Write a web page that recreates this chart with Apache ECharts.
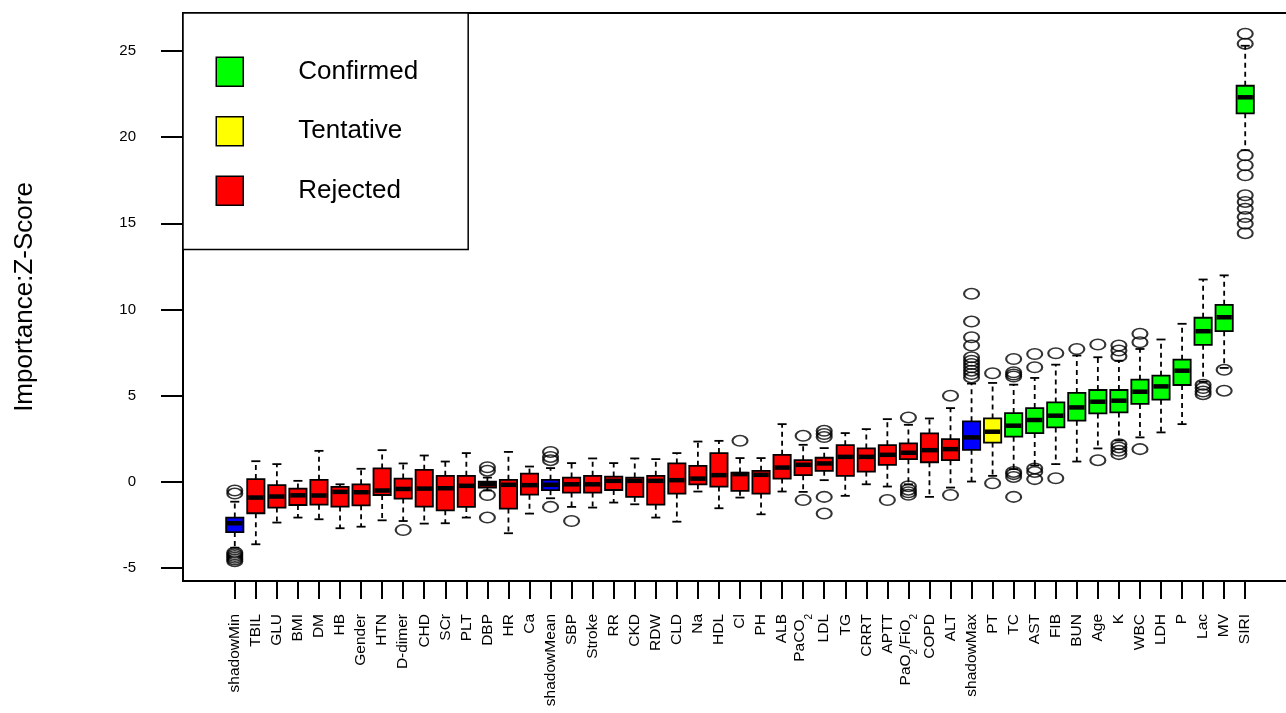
<!DOCTYPE html>
<html>
<head>
<meta charset="utf-8">
<style>html,body{margin:0;padding:0;background:#fff}#chart{width:1286px;height:713px}</style>
<script src="https://cdn.jsdelivr.net/npm/echarts@6/dist/echarts.min.js"></script>
</head>
<body>
<div id="chart"></div>
<script>
// ---- data ----
const categories = ['shadowMin','TBIL','GLU','BMI','DM','HB','Gender','HTN','D-dimer','CHD','SCr','PLT','DBP','HR','Ca','shadowMean','SBP','Stroke','RR','CKD','RDW','CLD','Na','HDL','Cl','PH','ALB','PaCO2','LDL','TG','CRRT','APTT','PaO2/FiO2','COPD','ALT','shadowMax','PT','TC','AST','FIB','BUN','Age','K','WBC','LDH','P','Lac','MV','SIRI'];
const status = ['Shadow','Rejected','Rejected','Rejected','Rejected','Rejected','Rejected','Rejected','Rejected','Rejected','Rejected','Rejected','Rejected','Rejected','Rejected','Shadow','Rejected','Rejected','Rejected','Rejected','Rejected','Rejected','Rejected','Rejected','Rejected','Rejected','Rejected','Rejected','Rejected','Rejected','Rejected','Rejected','Rejected','Rejected','Rejected','Shadow','Tentative','Confirmed','Confirmed','Confirmed','Confirmed','Confirmed','Confirmed','Confirmed','Confirmed','Confirmed','Confirmed','Confirmed','Confirmed'];
const whiskerLow  = [-3.82,-3.62,-2.36,-2.07,-2.17,-2.69,-2.60,-2.23,-2.27,-2.42,-2.40,-2.07,-0.50,-2.98,-1.84,-0.95,-1.45,-1.49,-1.20,-1.30,-2.07,-2.31,-0.56,-1.53,-0.91,-1.88,-0.56,-0.58,0.10,-0.81,-0.14,-0.27,-0.14,-0.87,-0.33,0.02,0.35,0.74,0.95,1.03,1.18,1.94,2.40,2.58,2.87,3.35,5.80,6.61,19.24];
const boxQ1       = [-2.91,-1.82,-1.49,-1.34,-1.32,-1.43,-1.36,-0.76,-0.97,-1.43,-1.65,-1.45,-0.33,-1.55,-0.74,-0.48,-0.62,-0.62,-0.47,-0.87,-1.32,-0.68,-0.14,-0.27,-0.52,-0.68,0.19,0.39,0.64,0.35,0.60,0.99,1.32,1.14,1.26,1.86,2.28,2.62,2.83,3.16,3.55,3.97,4.03,4.52,4.77,5.62,7.95,8.74,21.38];
const boxMedian   = [-2.40,-0.91,-0.85,-0.78,-0.79,-0.58,-0.60,-0.50,-0.41,-0.39,-0.37,-0.23,-0.14,-0.17,-0.19,-0.17,-0.14,-0.14,0.06,0.06,0.06,0.10,0.19,0.39,0.45,0.41,0.83,0.99,1.07,1.45,1.45,1.57,1.69,1.84,1.90,2.58,2.91,3.26,3.59,3.84,4.32,4.65,4.71,5.23,5.54,6.45,8.74,9.55,22.31];
const boxQ3       = [-2.07,0.16,-0.19,-0.39,0.12,-0.29,-0.14,0.78,0.19,0.70,0.35,0.35,0.02,0.12,0.48,0.12,0.25,0.35,0.31,0.25,0.35,1.07,0.93,1.67,0.54,0.64,1.57,1.26,1.40,2.13,1.94,2.13,2.23,2.81,2.48,3.51,3.68,3.99,4.28,4.61,5.16,5.33,5.33,5.93,6.16,7.09,9.52,10.27,22.98];
const whiskerHigh = [-1.15,1.20,1.03,0.06,1.80,-0.14,0.76,1.84,1.07,1.53,1.18,1.67,0.25,1.74,0.89,0.80,1.09,1.36,1.09,1.36,1.32,1.67,2.34,2.38,1.38,1.38,3.35,2.15,1.96,2.83,3.06,3.64,3.31,3.68,4.28,5.70,5.74,5.64,6.03,6.80,7.33,7.23,7.03,7.71,8.26,9.17,11.74,11.98,25.30];
// outliers: [category position (1-based), value]
const outliers = [
  [1,-0.50],[1,-0.68],[1,-4.10],[1,-4.20],[1,-4.30],[1,-4.40],[1,-4.50],[1,-4.60],
  [9,-2.79],
  [13,0.85],[13,0.65],[13,-0.76],[13,-2.07],
  [16,1.74],[16,1.45],[16,1.26],[16,-1.45],
  [17,-2.27],
  [25,2.38],
  [28,2.67],[28,-1.05],
  [29,2.96],[29,2.78],[29,2.60],[29,-0.87],[29,-1.84],
  [32,-1.05],
  [33,3.74],[33,-0.25],[33,-0.45],[33,-0.60],[33,-0.75],
  [35,5.00],[35,-0.76],
  [36,10.91],[36,9.30],[36,8.39],[36,7.91],[36,7.23],[36,7.03],[36,6.84],[36,6.65],[36,6.45],[36,6.26],[36,6.06],
  [37,6.30],[37,-0.08],
  [38,7.13],[38,6.36],[38,6.23],[38,6.11],[38,0.58],[38,0.45],[38,0.29],[38,-0.87],
  [39,7.42],[39,6.65],[39,0.78],[39,0.58],[39,0.16],
  [40,7.46],[40,0.21],
  [41,7.71],
  [42,7.97],[42,1.26],
  [43,7.91],[43,7.62],[43,7.29],[43,2.19],[43,2.00],[43,1.80],[43,1.61],
  [44,8.59],[44,8.10],[44,1.90],
  [47,5.63],[47,5.44],[47,5.24],[47,5.09],
  [48,6.50],[48,5.29],
  [49,26.00],[49,25.42],[49,18.95],[49,18.37],[49,17.79],[49,16.63],[49,16.24],[49,15.85],[49,15.36],[49,14.98],[49,14.43]
];
const yTicks = [-5, 0, 5, 10, 15, 20, 25];
const legendNames = ['Confirmed', 'Tentative', 'Rejected'];
const statusColor = {Shadow:'#0000ff', Confirmed:'#00ff00', Tentative:'#ffff00', Rejected:'#ff0000'};

// ---- layout constants ----
const FONT = 'Liberation Sans, Arial, sans-serif';
const BOX_W = 0.82, CAP_W = 0.43;
const xPositions = categories.map((c, i) => i + 1);

function renderBox(params, api) {
  const x = api.value(0);
  const lo = api.coord([x, api.value(1)]);
  const q1 = api.coord([x, api.value(2)]);
  const md = api.coord([x, api.value(3)]);
  const q3 = api.coord([x, api.value(4)]);
  const hi = api.coord([x, api.value(5)]);
  const bw = api.size([BOX_W, 0])[0];
  const cw = api.size([CAP_W, 0])[0];
  const cx = lo[0];
  const fill = api.visual('color');
  const dashStyle = {stroke:'#000', lineWidth:1.8, lineDash:[5,4], fill:null};
  const solid = {stroke:'#000', lineWidth:1.8, fill:null};
  return {
    type:'group',
    children:[
      {type:'line', shape:{x1:cx, y1:q3[1], x2:cx, y2:hi[1]}, style:dashStyle},
      {type:'line', shape:{x1:cx, y1:q1[1], x2:cx, y2:lo[1]}, style:dashStyle},
      {type:'line', shape:{x1:cx - cw/2, y1:hi[1], x2:cx + cw/2, y2:hi[1]}, style:solid},
      {type:'line', shape:{x1:cx - cw/2, y1:lo[1], x2:cx + cw/2, y2:lo[1]}, style:solid},
      {type:'rect', shape:{x:cx - bw/2, y:q3[1], width:bw, height:q1[1]-q3[1]}, style:{fill:fill, stroke:'#000', lineWidth:1.8}},
      {type:'line', shape:{x1:cx - bw/2 + 1, y1:md[1], x2:cx + bw/2 - 1, y2:md[1]}, style:{stroke:'#000', lineWidth:4.5}}
    ]
  };
}

function seriesFor(st) {
  const data = [];
  categories.forEach((c, i) => {
    if (status[i] === st) data.push([xPositions[i], whiskerLow[i], boxQ1[i], boxMedian[i], boxQ3[i], whiskerHigh[i]]);
  });
  return {
    type:'custom', name: st === 'Shadow' ? 'shadow' : st,
    renderItem: renderBox,
    itemStyle:{color: statusColor[st]},
    encode:{x:0, y:[1,2,3,4,5]},
    data: data, z: 2
  };
}

function fmtLabel(v) {
  const name = categories[Math.round(v) - 1] || '';
  if (name.indexOf('2') >= 0) {
    return name.split('2').map((p, i, arr) => (p ? '{n|' + p + '}' : '') + (i < arr.length - 1 ? '{sub|2}' : '')).join('');
  }
  return name;
}

const chart = echarts.init(document.getElementById('chart'), null, {renderer:'canvas'});
chart.setOption({
  animation:false,
  backgroundColor:'#fff',
  textStyle:{fontFamily:FONT, color:'#000'},
  grid:{left:183, top:13, right:-11, bottom:132, show:true, borderColor:'#000', borderWidth:2, backgroundColor:'transparent', containLabel:false, outerBoundsMode:'none'},
  legend:{
    data: legendNames.map(n => ({name:n})),
    orient:'vertical', left:183, top:13,
    padding:[43.5, 50, 43.5, 32.5],
    itemWidth:27, itemHeight:29, itemGap:29,
    icon:'rect',
    itemStyle:{borderColor:'#000', borderWidth:1.5},
    backgroundColor:'#fff', borderColor:'#000', borderWidth:1.5,
    textStyle:{fontSize:26, fontFamily:FONT, color:'#000', padding:[0,0,0,50]},
    selectedMode:false, z:10
  },
  xAxis:{
    type:'value', min:-1.46, max:51.46,
    axisLine:{show:false, onZero:false}, splitLine:{show:false},
    axisTick:{show:true, customValues:xPositions, length:18, lineStyle:{color:'#000', width:2}},
    axisLabel:{
      customValues:xPositions, rotate:90, margin:33, fontSize:15.5, color:'#000', fontFamily:FONT,
      formatter: fmtLabel,
      rich:{
        n:{fontSize:15.5, fontFamily:FONT, color:'#000', lineHeight:22, verticalAlign:'top'},
        sub:{fontSize:10, fontFamily:FONT, color:'#000', lineHeight:10, verticalAlign:'bottom'}
      }
    }
  },
  yAxis:{
    type:'value', min:-5.75, max:27.2,
    name:'Importance:Z-Score', nameLocation:'middle', nameRotate:90, nameGap:145,
    nameTextStyle:{fontSize:26, fontFamily:FONT, color:'#000'},
    axisLine:{show:false, onZero:false}, splitLine:{show:false},
    axisTick:{show:true, customValues:yTicks, length:22, lineStyle:{color:'#000', width:2}},
    axisLabel:{customValues:yTicks, margin:47, fontSize:15, color:'#000', fontFamily:FONT}
  },
  series:[
    seriesFor('Shadow'), seriesFor('Rejected'), seriesFor('Tentative'), seriesFor('Confirmed'),
    {
      type:'scatter', name:'outliers', data:outliers,
      symbol:'path://M0,50A50,50 0 1,0 100,50A50,50 0 1,0 0,50Z',
      symbolSize:[15,10.5],
      itemStyle:{color:'rgba(0,0,0,0)', borderColor:'#000', borderWidth:1.8},
      z:3, silent:true
    }
  ]
});
</script>
</body>
</html>
